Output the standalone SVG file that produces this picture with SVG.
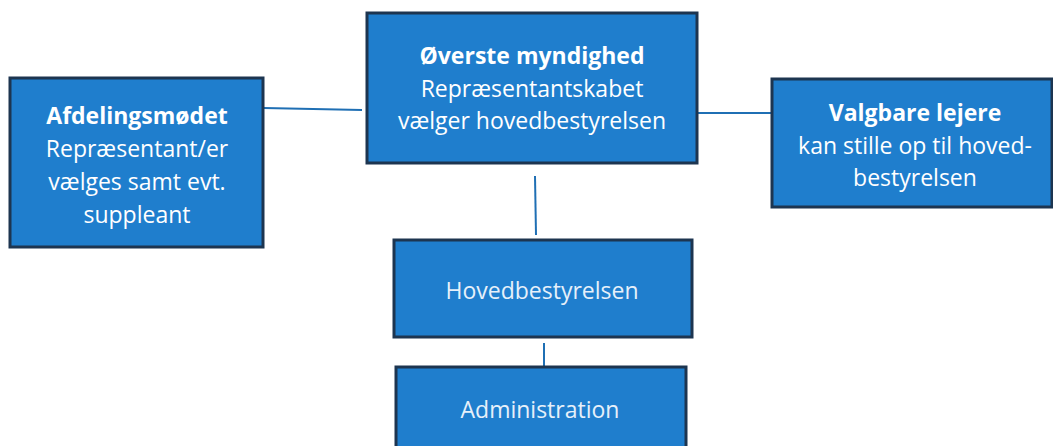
<svg xmlns="http://www.w3.org/2000/svg" width="1053" height="446" viewBox="0 0 1053 446">
<style>
.box{fill:#1f7ecd;stroke:#1d3550;stroke-width:3}
.t{font-family:"Open Sans","Liberation Sans",sans-serif;font-size:23px;fill:#ffffff;text-anchor:middle}
.b{font-weight:bold}
.s{fill:#e6f0fa}
.c{stroke:#1f6fb4;stroke-width:2;fill:none}
</style>
<rect width="1053" height="446" fill="#ffffff"/>
<g id="connectors">
<line class="c" x1="264" y1="108" x2="362" y2="110"/>
<line class="c" x1="697" y1="113" x2="772" y2="113"/>
<line class="c" x1="535" y1="176" x2="536" y2="235"/>
<line class="c" x1="544" y1="343" x2="544" y2="367"/>
</g>
<g id="afdelingsmodet">
<rect class="box" x="10" y="78" width="253" height="169"/>
<text class="t b" x="137" y="124">Afdelingsmødet</text>
<text class="t" x="137" y="157">Repræsentant/er</text>
<text class="t" x="137" y="190">vælges samt evt.</text>
<text class="t" x="137" y="223">suppleant</text>
</g>
<g id="overste">
<rect class="box" x="367" y="13" width="330" height="150"/>
<text class="t b" x="532" y="64">Øverste myndighed</text>
<text class="t" x="532" y="97">Repræsentantskabet</text>
<text class="t" x="532" y="129">vælger hovedbestyrelsen</text>
</g>
<g id="valgbare">
<rect class="box" x="772" y="79" width="280" height="128"/>
<text class="t b" x="915" y="121">Valgbare lejere</text>
<text class="t" x="915" y="154">kan stille op til hoved-</text>
<text class="t" x="915" y="186">bestyrelsen</text>
</g>
<g id="hovedbestyrelsen">
<rect class="box" x="394" y="240" width="298" height="97"/>
<text class="t s" x="542" y="299">Hovedbestyrelsen</text>
</g>
<g id="administration">
<rect class="box" x="396" y="367" width="290" height="82"/>
<text class="t s" x="540" y="418">Administration</text>
</g>
</svg>
